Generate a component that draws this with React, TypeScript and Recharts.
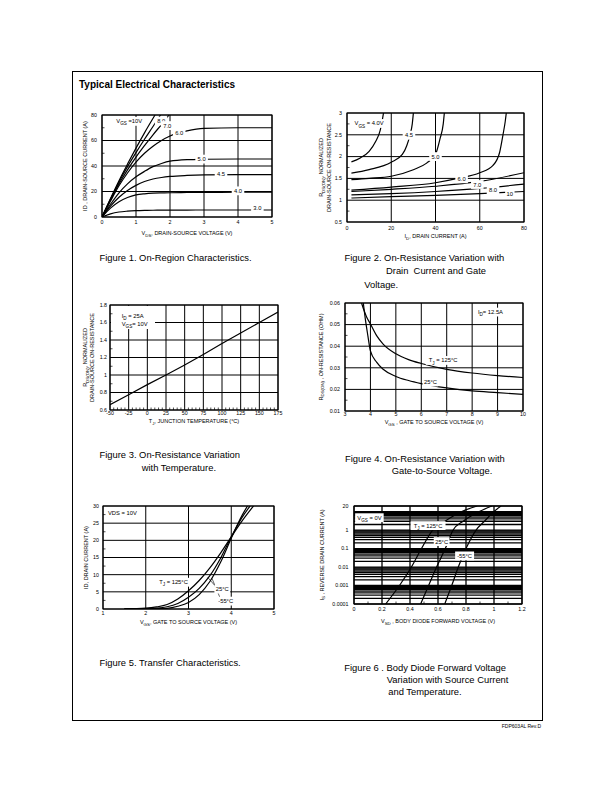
import React from 'react'
import {
  LineChart, Line, XAxis, YAxis, CartesianGrid,
  ReferenceArea, ReferenceDot, ReferenceLine,
} from 'recharts'

const FONT = '"Liberation Sans", Arial, Helvetica, sans-serif'
const INK = '#000'
const TICK_FS = 5.3
const TITLE_FS = 5.5
const TAG_FS = 5.8
const AXIS_W = 40
const AXIS_H = 30
const PAD = 6

// Figure 1 - on-region characteristics, ID (A) vs VDS (V), one curve per VGS
const fig1XTicks = [0, 1, 2, 3, 4, 5]
const fig1YTicks = [0, 20, 40, 60, 80]
const fig1Vds = [0, 0.25, 0.5, 0.75, 1, 1.25, 1.5, 1.75, 2, 2.5, 3, 4, 5]
const fig1Id3 = [0, 2.4, 3.9, 4.6, 5, 5.2, 5.3, 5.35, 5.4, 5.45, 5.5, 5.5, 5.5]
const fig1Id4 = [0, 7, 12, 15.3, 17.3, 18.2, 18.7, 18.9, 19, 19.2, 19.3, 19.4, 19.5]
const fig1Id45 = [0, 8.5, 15.5, 20.8, 24.8, 27.8, 29.8, 31, 31.8, 32.6, 33, 33.2, 33.3]
const fig1Id5 = [0, 10, 19, 26, 31.5, 35.8, 39.5, 42, 43.8, 45, 45.3, 45.5, 45.5]
const fig1Id6 = [0, 12.5, 24.5, 34.5, 43, 50, 55.5, 60, 63.5, 67.5, 69.5, 70, 70]
const fig1Vds7 = [0, 0.25, 0.5, 0.75, 1, 1.25, 1.5, 1.75, 1.97]
const fig1Id7 = [0, 13.5, 26, 37, 47, 56, 64.5, 72.5, 80]
const fig1Vds8 = [0, 0.25, 0.5, 0.75, 1, 1.25, 1.5, 1.72]
const fig1Id8 = [0, 14, 27.5, 39.5, 50.5, 61, 71, 80]
const fig1Vds10 = [0, 0.25, 0.5, 0.75, 1, 1.25, 1.56]
const fig1Id10 = [0, 14.5, 28.5, 41.5, 54, 66, 80]

// Figure 2 - normalized RDS(on) vs drain current, one curve per VGS
const fig2XTicks = [0, 20, 40, 60, 80]
const fig2YTicks = [0.5, 1, 1.5, 2, 2.5, 3]
const fig2Id40 = [2, 6, 10, 13, 15, 16, 16.5]
const fig2R40 = [1.88, 1.97, 2.12, 2.35, 2.6, 2.85, 3]
const fig2Id45 = [2, 10, 20, 25, 27, 28.5, 29.5, 30]
const fig2R45 = [1.62, 1.7, 1.87, 2.05, 2.25, 2.5, 2.75, 3]
const fig2Id50 = [2, 10, 20, 30, 36, 40, 42, 43.5, 44]
const fig2R50 = [1.47, 1.5, 1.55, 1.7, 1.85, 2.05, 2.4, 2.75, 3]
const fig2Id60 = [2, 20, 40, 50, 60, 66, 69, 70.5, 71.5, 72]
const fig2R60 = [1.23, 1.3, 1.4, 1.5, 1.63, 1.8, 2.1, 2.5, 2.8, 3]
const fig2Id = [2, 20, 40, 60, 80]
const fig2R70 = [1.2, 1.25, 1.32, 1.43, 1.63]
const fig2R80 = [1.12, 1.15, 1.2, 1.27, 1.37]
const fig2R10 = [1.05, 1.08, 1.11, 1.15, 1.2]

// Figure 3 - normalized RDS(on) vs junction temperature
const fig3XTicks = [-50, -25, 0, 25, 50, 75, 100, 125, 150, 175]
const fig3YTicks = [0.6, 0.8, 1, 1.2, 1.4, 1.6, 1.8]
const fig3Tj = [-50, -25, 0, 25, 50, 75, 100, 125, 150, 175]
const fig3R = [0.66, 0.775, 0.89, 1.0, 1.115, 1.235, 1.36, 1.48, 1.6, 1.72]

// Figure 4 - RDS(on) vs gate-source voltage
const fig4XTicks = [3, 4, 5, 6, 7, 8, 9, 10]
const fig4YTicks = [0.01, 0.02, 0.03, 0.04, 0.05, 0.06]
const fig4Vgs125 = [3.65, 3.75, 3.85, 4, 4.25, 4.5, 5, 5.5, 6, 7, 8, 9, 10]
const fig4R125 = [0.06, 0.0565, 0.0535, 0.0503, 0.0448, 0.041, 0.0365, 0.0338, 0.032, 0.0293, 0.0276, 0.0264, 0.0255]
const fig4Vgs25 = [3.72, 3.8, 3.9, 4, 4.25, 4.5, 5, 5.5, 6, 7, 8, 9, 10]
const fig4R25 = [0.06, 0.0525, 0.0448, 0.0378, 0.0325, 0.0293, 0.026, 0.0241, 0.0227, 0.0207, 0.0193, 0.0185, 0.0177]

// Figure 5 - transfer characteristics, ID vs VGS
const fig5XTicks = [1, 2, 3, 4, 5]
const fig5YTicks = [0, 5, 10, 15, 20, 25, 30]
const fig5Vgs125 = [1.5, 2, 2.25, 2.5, 2.75, 3, 3.25, 3.5, 3.75, 4, 4.25, 4.52]
const fig5Id125 = [0.05, 0.25, 0.6, 1.3, 2.9, 5.3, 8.3, 12, 16.3, 21, 25.6, 30]
const fig5Vgs25 = [1.5, 2, 2.25, 2.5, 2.75, 3, 3.25, 3.5, 3.75, 4, 4.25, 4.44]
const fig5Id25 = [0, 0.1, 0.25, 0.65, 1.6, 3.4, 6, 9.7, 14.8, 21, 26.6, 30]
const fig5VgsM55 = [1.5, 2, 2.25, 2.5, 2.75, 3, 3.25, 3.5, 3.75, 4, 4.25, 4.38]
const fig5IdM55 = [0, 0.03, 0.08, 0.2, 0.8, 1.9, 4.2, 8, 13.6, 20.6, 27.2, 30]

// Figure 6 - body diode forward voltage, IS (log) vs VSD
const fig6XTicks = [0, 0.2, 0.4, 0.6, 0.8, 1, 1.2]
const fig6YTicks = [0.0001, 0.001, 0.01, 0.1, 1, 20]
const fig6Is = [0.0001, 0.001, 0.01, 0.1, 1, 3, 10, 20]
const fig6V125 = [0.226, 0.325, 0.41, 0.482, 0.562, 0.65, 0.77, 0.88]
const fig6V25 = [0.476, 0.533, 0.59, 0.652, 0.708, 0.78, 0.895, 0.985]
const fig6VM55 = [0.648, 0.698, 0.745, 0.8, 0.872, 0.932, 1.0, 1.05]
const fig6Grid = [0.0001, 0.001, 0.01, 0.1, 1]
  .flatMap((d) => [1, 2, 3, 4, 5, 6, 7, 8, 9].map((m) => Number((d * m).toPrecision(6))))
  .concat([10, 20])

const pts = (xs: number[], ys: number[]) => xs.map((x, i) => ({ x, y: ys[i] }))

const steps = (from: number, to: number, step: number) => {
  const out: number[] = []
  for (let v = from; v <= to + 1e-9; v += step) out.push(Number(v.toFixed(6)))
  return out
}

const merged = (major: number[], minor: number[] = []) =>
  Array.from(new Set([...major, ...minor])).sort((a, b) => a - b)

const isMajor = (v: number, major: number[]) => major.some((m) => Math.abs(m - v) < 1e-9)

// "V_{DS}" -> V with a lowered, smaller DS
function rich(s: string, fs: number, drop = 0.35) {
  const parts = s.split(/_\{([^}]*)\}/)
  const out: React.ReactNode[] = []
  let cur = 0
  parts.forEach((p, i) => {
    if (!p) return
    const sub = i % 2 === 1
    const want = sub ? fs * drop : 0
    const dy = want - cur
    cur = want
    out.push(
      <tspan key={i} dy={dy || undefined} fontSize={sub ? fs * 0.8 : undefined}>
        {p}
      </tspan>
    )
  })
  return out
}

const axisTick = (axis: 'x' | 'y', major: number[], gap: number) => (props: any) => {
  const { x, y, payload } = props
  const v = payload.value
  if (!isMajor(v, major)) {
    // minor ticks point into the plot
    return axis === 'x'
      ? <line x1={x} x2={x} y1={y - gap} y2={y - gap - 2.5} stroke={INK} strokeWidth={0.7} />
      : <line x1={x + gap} x2={x + gap + 2.5} y1={y} y2={y} stroke={INK} strokeWidth={0.7} />
  }
  return axis === 'x'
    ? <text x={x} y={y + TICK_FS * 0.72} textAnchor="middle" fontSize={TICK_FS} fontFamily={FONT} fill={INK}>{String(v)}</text>
    : <text x={x} y={y + TICK_FS * 0.35} textAnchor="end" fontSize={TICK_FS} fontFamily={FONT} fill={INK}>{String(v)}</text>
}

const xTitleLabel = (text: string, gap: number) => (props: any) => {
  const vb = props.viewBox
  return (
    <text x={vb.x + vb.width / 2} y={vb.y + gap + TITLE_FS * 0.35} textAnchor="middle"
      fontSize={TITLE_FS} fontFamily={FONT} fill={INK}>
      {rich(text, TITLE_FS)}
    </text>
  )
}

const yTitleLabel = (lines: string[], gaps: number[]) => (props: any) => {
  const vb = props.viewBox
  const cy = vb.y + vb.height / 2
  return (
    <g>
      {lines.map((l, i) => {
        const cx = vb.x + vb.width - gaps[i]
        return (
          <text key={i} x={cx} y={cy + TITLE_FS * 0.35} transform={`rotate(-90 ${cx} ${cy})`}
            textAnchor="middle" fontSize={TITLE_FS} fontFamily={FONT} fill={INK}>
            {rich(l, TITLE_FS, 0.25)}
          </text>
        )
      })}
    </g>
  )
}

// centred curve label on a white patch
const tag = (text: string, box = true, fs = TAG_FS) => (props: any) => {
  const vb = props.viewBox || { x: 0, y: 0, width: 0, height: 0 }
  const cx = vb.x + (vb.width || 0) / 2
  const cy = vb.y + (vb.height || 0) / 2
  const plain = text.replace(/_\{([^}]*)\}/g, '$1')
  const w = plain.length * fs * 0.55 + 3
  const h = fs + 3
  return (
    <g>
      {box && <rect x={cx - w / 2} y={cy - h / 2} width={w} height={h} fill="#fff" />}
      <text x={cx} y={cy + fs * 0.35} textAnchor="middle" fontSize={fs} fontFamily={FONT} fill={INK}>
        {rich(text, fs)}
      </text>
    </g>
  )
}

// boxed note hung from a plot corner
const note = (lines: string[], w: number, h: number, tx: number, ty: number, lh: number, fs = TAG_FS) => (props: any) => {
  const vb = props.viewBox || { x: 0, y: 0, width: 0, height: 0 }
  const x0 = vb.x + (vb.width || 0) / 2
  const y0 = vb.y + (vb.height || 0) / 2
  return (
    <g>
      <rect x={x0 + 1} y={y0 + 1} width={w} height={h} fill="#fff" />
      {lines.map((l, i) => (
        <text key={i} x={x0 + tx} y={y0 + ty + i * lh + fs * 0.35} fontSize={fs} fontFamily={FONT} fill={INK}>
          {rich(l, fs)}
        </text>
      ))}
    </g>
  )
}

const curve = (data: { x: number; y: number }[], type: 'monotone' | 'linear' = 'monotone') => (
  <Line data={data} dataKey="y" type={type} stroke={INK} strokeWidth={1.2} dot={false}
    activeDot={false} isAnimationActive={false} />
)

const mark = (x: number, y: number, content: (p: any) => React.ReactNode) => (
  <ReferenceDot x={x} y={y} r={0} fill="none" stroke="none" ifOverflow="visible" label={content} />
)

const leader = (x1: number, y1: number, x2: number, y2: number) => (
  <ReferenceLine segment={[{ x: x1, y: y1 }, { x: x2, y: y2 }]} stroke={INK} strokeWidth={0.6} ifOverflow="visible" />
)

type PanelProps = {
  left: number; top: number; width: number; height: number
  xDomain: [number, number]; yDomain: [number, number]
  xTicks: number[]; yTicks: number[]
  xMinor?: number[]; yMinor?: number[]
  yGrid?: number[]
  gridWidth?: number
  yLog?: boolean
  xTickGap: number; yTickGap: number
  xTitle: string; xTitleGap: number
  yTitle: string[]; yTitleGap: number[]
  children?: React.ReactNode
}

function Panel(p: PanelProps) {
  return (
    <div style={{ position: 'absolute', left: p.left - AXIS_W, top: p.top - PAD }}>
      <LineChart width={p.width + AXIS_W + PAD} height={p.height + PAD + AXIS_H}
        margin={{ top: PAD, right: PAD, bottom: 0, left: 0 }}>
        <CartesianGrid stroke={INK} strokeWidth={p.gridWidth ?? 1} verticalValues={p.xTicks}
          horizontalValues={p.yGrid ?? p.yTicks} />
        <XAxis type="number" dataKey="x" domain={p.xDomain} allowDataOverflow
          ticks={merged(p.xTicks, p.xMinor)} interval={0} height={AXIS_H}
          axisLine={false} tickLine={false} tickSize={0} tickMargin={p.xTickGap}
          tick={axisTick('x', p.xTicks, p.xTickGap)} label={xTitleLabel(p.xTitle, p.xTitleGap)} />
        <YAxis type="number" scale={p.yLog ? 'log' : 'linear'} domain={p.yDomain} allowDataOverflow
          ticks={merged(p.yTicks, p.yMinor)} interval={0} width={AXIS_W}
          axisLine={false} tickLine={false} tickSize={0} tickMargin={p.yTickGap}
          tick={axisTick('y', p.yTicks, p.yTickGap)} label={yTitleLabel(p.yTitle, p.yTitleGap)} />
        {p.children}
        <ReferenceArea x1={p.xDomain[0]} x2={p.xDomain[1]} y1={p.yDomain[0]} y2={p.yDomain[1]}
          fill="none" stroke={INK} strokeWidth={1.1} ifOverflow="visible" />
      </LineChart>
    </div>
  )
}

const Caption = ({ x, y, size = 9.4, bold = false, children }: { x: number; y: number; size?: number; bold?: boolean; children: React.ReactNode }) => (
  <div style={{ position: 'absolute', left: x, top: y, fontSize: size, lineHeight: 1, fontWeight: bold ? 700 : 400, whiteSpace: 'pre' }}>
    {children}
  </div>
)

export default function App() {
  return (
    <div style={{ position: 'absolute', left: 0, top: 0, width: 612, height: 792, background: '#fff', fontFamily: FONT, color: INK }}>
      <div style={{ position: 'absolute', left: 72, top: 71, width: 471, height: 650, border: `1px solid ${INK}`, boxSizing: 'border-box' }} />
      <Caption x={79} y={80.1} size={10} bold>Typical Electrical Characteristics</Caption>

      <Panel left={102} top={115} width={170} height={102} xDomain={[0, 5]} yDomain={[0, 80]}
        xTicks={fig1XTicks} yTicks={fig1YTicks} yMinor={steps(0, 80, 10)}
        xTickGap={3.5} yTickGap={5}
        xTitle="V_{DS}, DRAIN-SOURCE VOLTAGE (V)" xTitleGap={16}
        yTitle={['ID , DRAIN-SOURCE CURRENT (A)']} yTitleGap={[16.5]}>
        {curve(pts(fig1Vds10, fig1Id10))}
        {curve(pts(fig1Vds8, fig1Id8))}
        {curve(pts(fig1Vds7, fig1Id7))}
        {curve(pts(fig1Vds, fig1Id6))}
        {curve(pts(fig1Vds, fig1Id5))}
        {curve(pts(fig1Vds, fig1Id45))}
        {curve(pts(fig1Vds, fig1Id4))}
        {curve(pts(fig1Vds, fig1Id3))}
        {mark(0.8, 75, tag('V_{GS} =10V'))}
        {mark(1.74, 75.3, tag('8.0'))}
        {mark(1.92, 71.7, tag('7.0'))}
        {mark(2.27, 65.6, tag('6.0'))}
        {mark(2.93, 45.4, tag('5.0'))}
        {mark(3.5, 33.6, tag('4.5'))}
        {mark(4.0, 20.5, tag('4.0'))}
        {mark(4.57, 7.3, tag('3.0'))}
      </Panel>

      <Panel left={347} top={113} width={177} height={109} xDomain={[0, 80]} yDomain={[0.5, 3]}
        xTicks={fig2XTicks} yTicks={fig2YTicks} yMinor={steps(0.5, 3, 0.25)}
        xTickGap={4} yTickGap={5}
        xTitle="I_{D}, DRAIN CURRENT (A)" xTitleGap={14.3}
        yTitle={['R_{DS(ON)}, NORMALIZED', 'DRAIN-SOURCE ON-RESISTANCE']} yTitleGap={[25.5, 17.7]}>
        {curve(pts(fig2Id40, fig2R40))}
        {curve(pts(fig2Id45, fig2R45))}
        {curve(pts(fig2Id50, fig2R50))}
        {curve(pts(fig2Id60, fig2R60))}
        {curve(pts(fig2Id, fig2R70))}
        {curve(pts(fig2Id, fig2R80))}
        {curve(pts(fig2Id, fig2R10))}
        {mark(10, 2.76, tag('V_{GS} = 4.0V'))}
        {mark(28, 2.49, tag('4.5'))}
        {mark(40, 2.0, tag('5.0'))}
        {mark(51.8, 1.49, tag('6.0'))}
        {mark(58.9, 1.36, tag('7.0'))}
        {mark(66, 1.24, tag('8.0'))}
        {mark(73.6, 1.15, tag('10'))}
      </Panel>

      <Panel left={110} top={305} width={168} height={105} xDomain={[-50, 175]} yDomain={[0.6, 1.8]}
        xTicks={fig3XTicks} yTicks={fig3YTicks} xMinor={steps(-50, 175, 5)} yMinor={steps(0.6, 1.8, 0.1)}
        xTickGap={1} yTickGap={3}
        xTitle="T_{J}, JUNCTION TEMPERATURE (°C)" xTitleGap={11}
        yTitle={['R_{DS(ON)}, NORMALIZED', 'DRAIN-SOURCE ON-RESISTANCE']} yTitleGap={[24.5, 17.5]}>
        {curve(pts(fig3Tj, fig3R), 'linear')}
        {mark(-50, 1.8, note(['I_{D} = 25A', 'V_{GS}= 10V'], 44, 23, 11.7, 10.7, 8.3))}
      </Panel>

      <Panel left={345} top={303} width={178} height={108} xDomain={[3, 10]} yDomain={[0.01, 0.06]}
        xTicks={fig4XTicks} yTicks={fig4YTicks} yMinor={steps(0.01, 0.06, 0.005)}
        xTickGap={1.4} yTickGap={5}
        xTitle="V_{GS} , GATE TO SOURCE VOLTAGE (V)" xTitleGap={11}
        yTitle={['R_{DS(ON)} , ON-RESISTANCE (OHM)']} yTitleGap={[24]}>
        {curve(pts(fig4Vgs125, fig4R125))}
        {curve(pts(fig4Vgs25, fig4R25))}
        {mark(8.72, 0.0558, tag('I_{D}= 12.5A'))}
        {mark(6.86, 0.0334, tag('T_{J} = 125°C'))}
        {mark(6.36, 0.0234, tag('25°C'))}
      </Panel>

      <Panel left={103} top={506} width={171} height={103} xDomain={[1, 5]} yDomain={[0, 30]}
        xTicks={fig5XTicks} yTicks={fig5YTicks} yMinor={steps(0, 30, 2.5)}
        xTickGap={2.4} yTickGap={4}
        xTitle="V_{GS}, GATE TO SOURCE VOLTAGE (V)" xTitleGap={12.7}
        yTitle={['ID, DRAIN CURRENT (A)']} yTitleGap={[17]}>
        {curve(pts(fig5Vgs125, fig5Id125))}
        {curve(pts(fig5Vgs25, fig5Id25))}
        {curve(pts(fig5VgsM55, fig5IdM55))}
        {leader(3.45, 9.2, 3.66, 6.2)}
        {leader(3.55, 8.9, 3.74, 3.2)}
        {mark(1, 30, note(['VDS = 10V'], 29, 11, 5, 7.3, 8))}
        {mark(2.65, 7.8, tag('T_{J} = 125°C'))}
        {mark(3.79, 5.8, tag('25°C'))}
        {mark(3.87, 2.3, tag('-55°C'))}
      </Panel>

      <Panel left={354} top={506} width={168} height={98} xDomain={[0, 1.2]} yDomain={[0.0001, 20]} yLog
        xTicks={fig6XTicks} yTicks={fig6YTicks} xMinor={steps(0, 1.2, 0.1)} yGrid={fig6Grid} gridWidth={1.3}
        xTickGap={2.8} yTickGap={5.5}
        xTitle="V_{SD} , BODY DIODE FORWARD VOLTAGE (V)" xTitleGap={16.7}
        yTitle={['I_{S} , REVERSE DRAIN CURRENT (A)']} yTitleGap={[32]}>
        {curve(pts(fig6V125, fig6Is))}
        {curve(pts(fig6V25, fig6Is))}
        {curve(pts(fig6VM55, fig6Is))}
        {mark(0.11, 4.66, tag('V_{GS} = 0V'))}
        {mark(0.529, 1.74, tag('T_{J} = 125°C'))}
        {mark(0.626, 0.238, tag('25°C'))}
        {mark(0.79, 0.04, tag('-55°C'))}
      </Panel>

      <Caption x={99.5} y={253.1}>Figure 1. On-Region Characteristics.</Caption>
      <Caption x={344.5} y={253.1}>Figure 2. On-Resistance Variation with</Caption>
      <Caption x={386} y={266.4}>Drain  Current and Gate</Caption>
      <Caption x={364.3} y={280.4}>Voltage.</Caption>
      <Caption x={99.5} y={450.4}>Figure 3. On-Resistance Variation</Caption>
      <Caption x={141.7} y={462.7}>with Temperature.</Caption>
      <Caption x={345} y={453.7}>Figure 4. On-Resistance Variation with</Caption>
      <Caption x={391.7} y={466.1}>Gate-to-Source Voltage.</Caption>
      <Caption x={99.5} y={657.7}>Figure 5. Transfer Characteristics.</Caption>
      <Caption x={344.3} y={662.7}>Figure 6 . Body Diode Forward Voltage</Caption>
      <Caption x={386.7} y={674.7}>Variation with Source Current</Caption>
      <Caption x={388.3} y={687.1}>and Temperature.</Caption>

      <div style={{ position: 'absolute', right: 71, top: 723.5, fontSize: 5, lineHeight: 1 }}>FDP603AL Rev.D</div>
    </div>
  )
}
